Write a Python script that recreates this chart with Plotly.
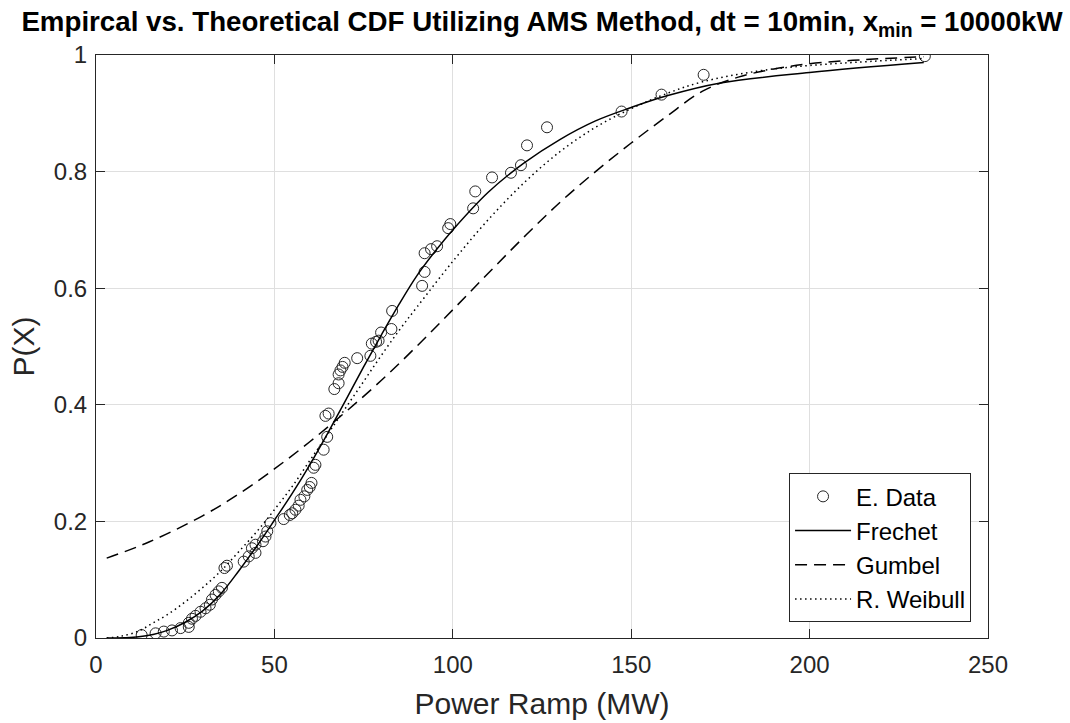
import plotly.graph_objects as go

# Empirical data (Power Ramp MW, P(X))
emp_x = [12.8, 16.7, 19.0, 21.3, 23.7, 26.0, 26.0, 26.9, 27.9, 29.3, 30.7, 31.9, 32.5, 33.5,
         34.4, 35.3, 36.0, 36.7, 41.4, 42.8, 44.7, 43.7, 44.7, 46.8, 47.5, 48.0, 48.9, 52.6,
         54.3, 55.0, 55.9, 56.8, 57.3, 58.4, 59.2, 59.9, 60.4, 61.0, 61.5, 63.8, 64.8, 64.3,
         65.2, 66.8, 68.0, 68.0, 68.5, 69.1, 69.7, 73.2, 76.9, 77.3, 78.5, 79.2, 79.9, 82.8,
         83.0, 91.4, 92.1, 92.1, 93.9, 95.6, 98.7, 99.3, 105.7, 106.3, 111.0, 116.3, 119.1,
         120.8, 126.4, 147.3, 158.5, 170.3, 232.3]
emp_y = [0.005, 0.008, 0.011, 0.013, 0.017, 0.019, 0.026, 0.033, 0.038, 0.045, 0.051, 0.057,
         0.066, 0.074, 0.080, 0.086, 0.120, 0.124, 0.131, 0.140, 0.146, 0.154, 0.160, 0.166,
         0.174, 0.183, 0.197, 0.204, 0.211, 0.214, 0.220, 0.227, 0.237, 0.243, 0.254, 0.259,
         0.266, 0.292, 0.297, 0.323, 0.345, 0.381, 0.385, 0.427, 0.437, 0.452, 0.459, 0.465,
         0.472, 0.480, 0.484, 0.505, 0.508, 0.510, 0.524, 0.530, 0.561, 0.604, 0.628, 0.660,
         0.667, 0.672, 0.703, 0.710, 0.737, 0.766, 0.790, 0.798, 0.811, 0.845, 0.876, 0.903,
         0.932, 0.966, 0.998]

# Frechet fit
fre_x = [3, 8, 12, 16, 20, 25, 30, 35, 40, 45, 50, 55, 60, 65, 70, 75, 80, 85, 90, 95, 100,
         110, 120, 130, 140, 150, 160, 175, 200, 232]
fre_y = [0.0, 0.0005, 0.002, 0.006, 0.013, 0.027, 0.047, 0.076, 0.115, 0.157, 0.202, 0.248,
         0.298, 0.352, 0.408, 0.465, 0.52, 0.573, 0.622, 0.663, 0.70, 0.765, 0.815, 0.855,
         0.887, 0.91, 0.93, 0.952, 0.97, 0.987]

# Gumbel fit
gum_x = [3, 15, 30, 40, 50, 60, 70, 80, 90, 100, 110, 120, 130, 140, 150, 160, 170, 180,
         190, 200, 215, 232]
gum_y = [0.137, 0.165, 0.21, 0.247, 0.29, 0.337, 0.388, 0.442, 0.501, 0.563, 0.626, 0.688,
         0.747, 0.80, 0.849, 0.895, 0.938, 0.962, 0.976, 0.985, 0.992, 0.997]

# Reversed Weibull fit
wei_x = [3, 7, 12, 16, 20, 25, 30, 35, 40, 45, 50, 55, 60, 65, 70, 75, 80, 85, 90, 100, 110,
         120, 130, 140, 150, 160, 170, 185, 200, 232]
wei_y = [0.0, 0.003, 0.012, 0.026, 0.04, 0.062, 0.087, 0.115, 0.148, 0.182, 0.22, 0.26,
         0.305, 0.35, 0.395, 0.44, 0.485, 0.528, 0.568, 0.646, 0.718, 0.781, 0.834, 0.876,
         0.908, 0.934, 0.954, 0.972, 0.982, 0.994]

x_ticks = [0, 50, 100, 150, 200, 250]
y_ticks = [0, 0.2, 0.4, 0.6, 0.8, 1]
y_ticklabels = ["0", "0.2", "0.4", "0.6", "0.8", "1"]

FONT = "Liberation Sans, Arial, sans-serif"
AX = "#262626"

fig = go.Figure()
fig.add_trace(go.Scatter(
    x=emp_x, y=emp_y, mode="markers", name="E. Data",
    marker=dict(symbol="circle-open", size=11, color=AX, line=dict(width=1, color=AX)),
))
fig.add_trace(go.Scatter(
    x=fre_x, y=fre_y, mode="lines", name="Frechet",
    line=dict(color="black", width=1.5, shape="spline"),
))
fig.add_trace(go.Scatter(
    x=gum_x, y=gum_y, mode="lines", name="Gumbel",
    line=dict(color="black", width=1.5, shape="spline", dash="12px,7px"),
))
fig.add_trace(go.Scatter(
    x=wei_x, y=wei_y, mode="lines", name="R. Weibull",
    line=dict(color="black", width=1.5, shape="spline", dash="1.5px,3.5px"),
))

axis_common = dict(
    showline=True, linecolor=AX, linewidth=1, mirror="ticks",
    ticks="inside", ticklen=9, tickwidth=1, tickcolor=AX,
    showgrid=True, gridcolor="#dfdfdf", gridwidth=1, zeroline=False,
    tickfont=dict(family=FONT, size=24, color=AX), automargin=False,
)

fig.update_layout(
    width=1070, height=723,
    margin=dict(l=96, r=82, t=55, b=85, pad=0, autoexpand=False),
    paper_bgcolor="white", plot_bgcolor="white",
    title=dict(
        text="Empircal vs. Theoretical CDF Utilizing AMS Method, dt = 10min, x<sub>min</sub> = 10000kW",
        font=dict(family=FONT, size=27.7, color="black", weight="bold"),
        x=0.5, xanchor="center", xref="paper",
        y=1 - 21 / 723, yanchor="middle", yref="container",
    ),
    xaxis=dict(
        range=[0, 250], tickvals=x_ticks, ticklabelstandoff=5,
        title=dict(text="Power Ramp (MW)", font=dict(family=FONT, size=30, color=AX), standoff=16),
        **axis_common,
    ),
    yaxis=dict(
        range=[0, 1], tickvals=y_ticks, ticktext=y_ticklabels, ticklabelstandoff=3,
        title=dict(text="P(X)", font=dict(family=FONT, size=30, color=AX), standoff=10),
        **axis_common,
    ),
    legend=dict(
        x=0.981, xanchor="right", y=0.027, yanchor="bottom",
        bgcolor="white", bordercolor=AX, borderwidth=1,
        font=dict(family=FONT, size=24, color="black"),
        tracegroupgap=0, itemwidth=56,
    ),
    showlegend=True,
)

fig.write_html("out.html")
